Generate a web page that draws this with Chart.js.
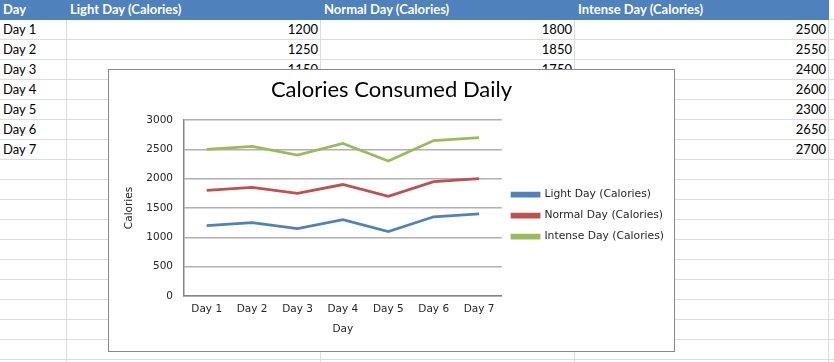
<!DOCTYPE html>
<html>
<head>
<meta charset="utf-8">
<script src="https://cdn.jsdelivr.net/npm/chart.js@4.4.1/dist/chart.umd.min.js"></script>
<style>
	html, body { margin: 0; padding: 0; background: #fff; }
	body { width: 834px; height: 362px; overflow: hidden; position: relative; font-family: Lato, "Noto Sans", sans-serif; }
	.cell { position: absolute; box-sizing: border-box; height: 20px; border-right: 1px solid #dadcdd; border-bottom: 1px solid #dadcdd; font-size: 13px; line-height: 19px; color: #000; padding: 0 2px 0 3px; white-space: nowrap; overflow: hidden; }
	.head { background: #4f81bd; color: #fff; font-weight: bold; border-color: #4f81bd; }
	.num { text-align: right; }
	#chartBox { position: absolute; left: 108px; top: 69px; width: 567px; height: 283px; box-sizing: border-box; border: 1px solid #888; background: #fff; z-index: 2; }
	#chartWrap { position: relative; width: 565px; height: 281px; }
</style>
</head>
<body>
<div id="sheet"></div>
<div id="chartBox"><div id="chartWrap"><canvas id="caloriesChart"></canvas></div></div>
<script>
// sheet data
const days = [ 'Day 1', 'Day 2', 'Day 3', 'Day 4', 'Day 5', 'Day 6', 'Day 7' ];
const lightDay = [ 1200, 1250, 1150, 1300, 1100, 1350, 1400 ];
const normalDay = [ 1800, 1850, 1750, 1900, 1700, 1950, 2000 ];
const intenseDay = [ 2500, 2550, 2400, 2600, 2300, 2650, 2700 ];
const seriesNames = [ 'Light Day (Calories)', 'Normal Day (Calories)', 'Intense Day (Calories)' ];
const headerNames = [ 'Day' ].concat( seriesNames );
const seriesColors = [ '#4f81bd', '#c0504d', '#9bbb59' ];

/* -------------------------------------------------------------
 * spreadsheet background
 * ------------------------------------------------------------- */
const colX = [ 0, 67, 321, 575, 829 ];
const colW = [ 67, 254, 254, 254, 10 ];
const sheet = document.getElementById( 'sheet' );
const columns = [ days, lightDay, normalDay, intenseDay ];

function addCell( row, col, text, cls ) {
	const el = document.createElement( 'div' );
	el.className = 'cell ' + ( cls || '' );
	el.style.left = colX[ col ] + 'px';
	el.style.top = row * 20 + 'px';
	el.style.width = colW[ col ] + 'px';
	el.textContent = text;
	sheet.appendChild( el );
}

for ( let r = 0; r < 19; r++ ) {
	for ( let c = 0; c < 5; c++ ) {
		if ( r === 0 && c < 4 ) {
			addCell( r, c, headerNames[ c ], 'head' );
		} else if ( r >= 1 && r <= days.length && c < 4 ) {
			addCell( r, c, columns[ c ][ r - 1 ], c > 0 ? 'num' : '' );
		} else {
			addCell( r, c, '' );
		}
	}
}

/* -------------------------------------------------------------
 * chart
 * ------------------------------------------------------------- */
const chartFont = { family: '"DejaVu Sans", sans-serif', size: 10.5 };
const legendFont = { family: '"DejaVu Sans", sans-serif', size: 10.75 };
const inkColor = '#262626';

new Chart( document.getElementById( 'caloriesChart' ), {
	type: 'line',
	data: {
		labels: days,
		datasets: [ lightDay, normalDay, intenseDay ].map( ( vals, i ) => ( {
			label: seriesNames[ i ],
			data: vals,
			borderColor: seriesColors[ i ],
			backgroundColor: seriesColors[ i ],
			borderWidth: 2.75,
			pointRadius: 0,
			tension: 0
		} ) )
	},
	options: {
		responsive: true,
		maintainAspectRatio: false,
		animation: false,
		layout: { padding: { left: 0, right: 0, top: 0, bottom: 0 } },
		plugins: {
			title: {
				display: true,
				text: 'Calories Consumed Daily',
				color: '#000',
				font: { family: 'Lato, "Noto Sans", sans-serif', size: 22, weight: 'normal' },
				padding: { top: 6.5, bottom: 17.1 }
			},
			legend: {
				position: 'right',
				fullSize: false,
				maxWidth: 260,
				// empty title only nudges the legend block down a little
				title: { display: true, text: '', font: { size: 12.5 }, padding: 0 },
				labels: {
					boxWidth: 27,
					boxHeight: 3,
					padding: 10.25,
					color: inkColor,
					font: legendFont
				}
			},
			tooltip: { enabled: false }
		},
		scales: {
			x: {
				offset: true,
				grid: { display: false, drawTicks: false },
				border: { display: true, color: '#868686', width: 1.5 },
				ticks: { color: inkColor, font: chartFont, padding: 7 },
				title: { display: true, text: 'Day', color: inkColor, font: chartFont, padding: { top: 0, bottom: 15.7 } },
				afterFit: ( scale ) => { scale.height = 55; }
			},
			y: {
				min: 0,
				max: 3000,
				ticks: { stepSize: 500, color: inkColor, font: chartFont, padding: 11, callback: ( v ) => String( v ) },
				grid: { color: '#b0b0b0', lineWidth: 1.5, drawTicks: false },
				border: { display: true, color: '#868686', width: 1.5 },
				title: { display: true, text: 'Calories', color: inkColor, font: chartFont, padding: { top: 14, bottom: 0 } },
				afterFit: ( scale ) => { scale.width = 75; }
			}
		}
	}
} );
</script>
</body>
</html>
